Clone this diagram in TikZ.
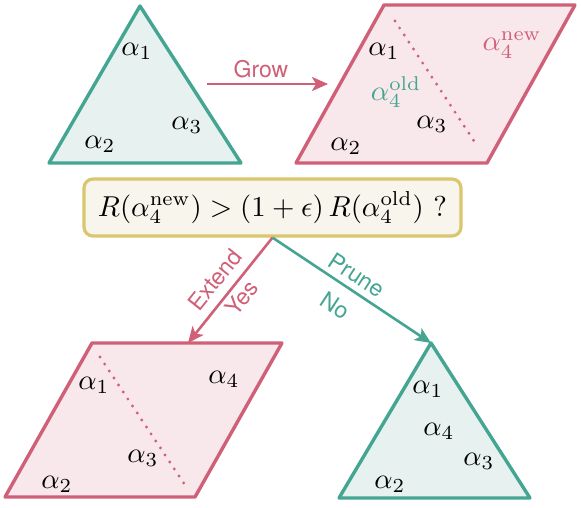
\documentclass[tikz,border=0pt]{standalone}
\usepackage{fontspec}
\setsansfont{TeX Gyre Heros}
\usetikzlibrary{arrows.meta}
\definecolor{tealc}{HTML}{45A593}
\definecolor{tealf}{HTML}{E7F2F0}
\definecolor{pinkc}{HTML}{CF6078}
\definecolor{pinkf}{HTML}{F8E7EB}
\definecolor{boxf}{HTML}{F8F6EC}
\definecolor{boxd}{HTML}{DAC66C}
\begin{document}
\begin{tikzpicture}[x=1pt,y=-1pt,
  tri/.style={draw=tealc,fill=tealf,line width=3.4pt,line join=round},
  para/.style={draw=pinkc,fill=pinkf,line width=3.4pt,line join=round},
  dotl/.style={draw=pinkc,line width=3.2pt,line cap=round,dash pattern=on 0pt off 8.4pt},
  ml/.style={font=\fontsize{10}{12}\selectfont,inner sep=0pt,scale=2.85},
  sl/.style={font=\sffamily\fontsize{23}{26}\selectfont,inner sep=0pt},
  arr/.style={line width=2.6pt,-{Stealth[length=16pt,width=14pt,inset=4pt]}},
  qbox/.style={draw=boxd,fill=boxf,line width=3.2pt,rounded corners=9pt,minimum width=377pt,minimum height=57pt,inner sep=0pt},
  qtext/.style={font=\fontsize{10}{12}\selectfont,inner sep=0pt,scale=2.88}]
\useasboundingbox (0,0) rectangle (581,507);
% top-left triangle
\coordinate (t1a) at (140,6);
\coordinate (t1l) at (49,163);
\coordinate (t1r) at (241,163);
\draw[tri] (t1a) -- (t1l) -- (t1r) -- cycle;
\node[ml] (t1x1) at (137,51) {$\alpha_1$};
\node[ml] (t1x3) at (187,125) {$\alpha_3$};
\node[ml] (t1x2) at (100,144) {$\alpha_2$};
% top-right parallelogram
\coordinate (p1a) at (384,5);
\coordinate (p1b) at (575,5);
\coordinate (p1c) at (487,163);
\coordinate (p1d) at (296,163);
\draw[para] (p1a) -- (p1b) -- (p1c) -- (p1d) -- cycle;
\coordinate (p1s) at (395,21);
\coordinate (p1e) at (478,147);
\draw[dotl] (p1s) -- (p1e);
\node[ml] (p1x1) at (384,51) {$\alpha_1$};
\node[ml] (p1x3) at (432,124) {$\alpha_3$};
\node[ml] (p1x2) at (346,146) {$\alpha_2$};
\node[ml,text=tealc] (p1old) at (396,92) {$\alpha_4^{\mathrm{old}}$};
\node[ml,text=pinkc] (p1new) at (512,45) {$\alpha_4^{\mathrm{new}}$};
% grow arrow
\coordinate (gs) at (207,84);
\coordinate (ge) at (328,84);
\draw[arr,pinkc] (gs) -- (ge);
\node[sl,text=pinkc] (grow) at (261,69) {Grow};
% decision box
\node[qbox] (q) at (272.5,207.5) {};
\node[qtext] (qt) at (q.center) {$R(\alpha_4^{\mathrm{new}}) > (1+\epsilon)\,R(\alpha_4^{\mathrm{old}})\ ?$};
% bottom-left parallelogram
\coordinate (p2a) at (92,343);
\coordinate (p2b) at (282,343);
\coordinate (p2c) at (195,497);
\coordinate (p2d) at (5,497);
\draw[para] (p2a) -- (p2b) -- (p2c) -- (p2d) -- cycle;
\coordinate (p2s) at (100,357);
\coordinate (p2e) at (185,485);
\draw[dotl] (p2s) -- (p2e);
\node[ml] (p2x1) at (94,385) {$\alpha_1$};
\node[ml] (p2x4) at (224,379) {$\alpha_4$};
\node[ml] (p2x3) at (143,458) {$\alpha_3$};
\node[ml] (p2x2) at (57,484) {$\alpha_2$};
\coordinate (p2top) at (188,343);
% bottom-right triangle
\coordinate (t2a) at (431,343);
\coordinate (t2l) at (339,498);
\coordinate (t2r) at (530,498);
\draw[tri] (t2a) -- (t2l) -- (t2r) -- cycle;
\node[ml] (t2x1) at (428,389) {$\alpha_1$};
\node[ml] (t2x4) at (439,431) {$\alpha_4$};
\node[ml] (t2x3) at (479,461) {$\alpha_3$};
\node[ml] (t2x2) at (390,484) {$\alpha_2$};
% branch arrows
\draw[arr,pinkc] (q.south) -- (p2top);
\draw[arr,tealc] (q.south) -- (t2a);
\node[sl,text=pinkc,rotate=51.3] (ext) at (215,280) {Extend};
\node[sl,text=pinkc,rotate=51.3] (yes) at (242,298) {Yes};
\node[sl,text=tealc,rotate=-33.3] (prune) at (357,275) {Prune};
\node[sl,text=tealc,rotate=-33.3] (no) at (335,306) {No};
\end{tikzpicture}
\end{document}
